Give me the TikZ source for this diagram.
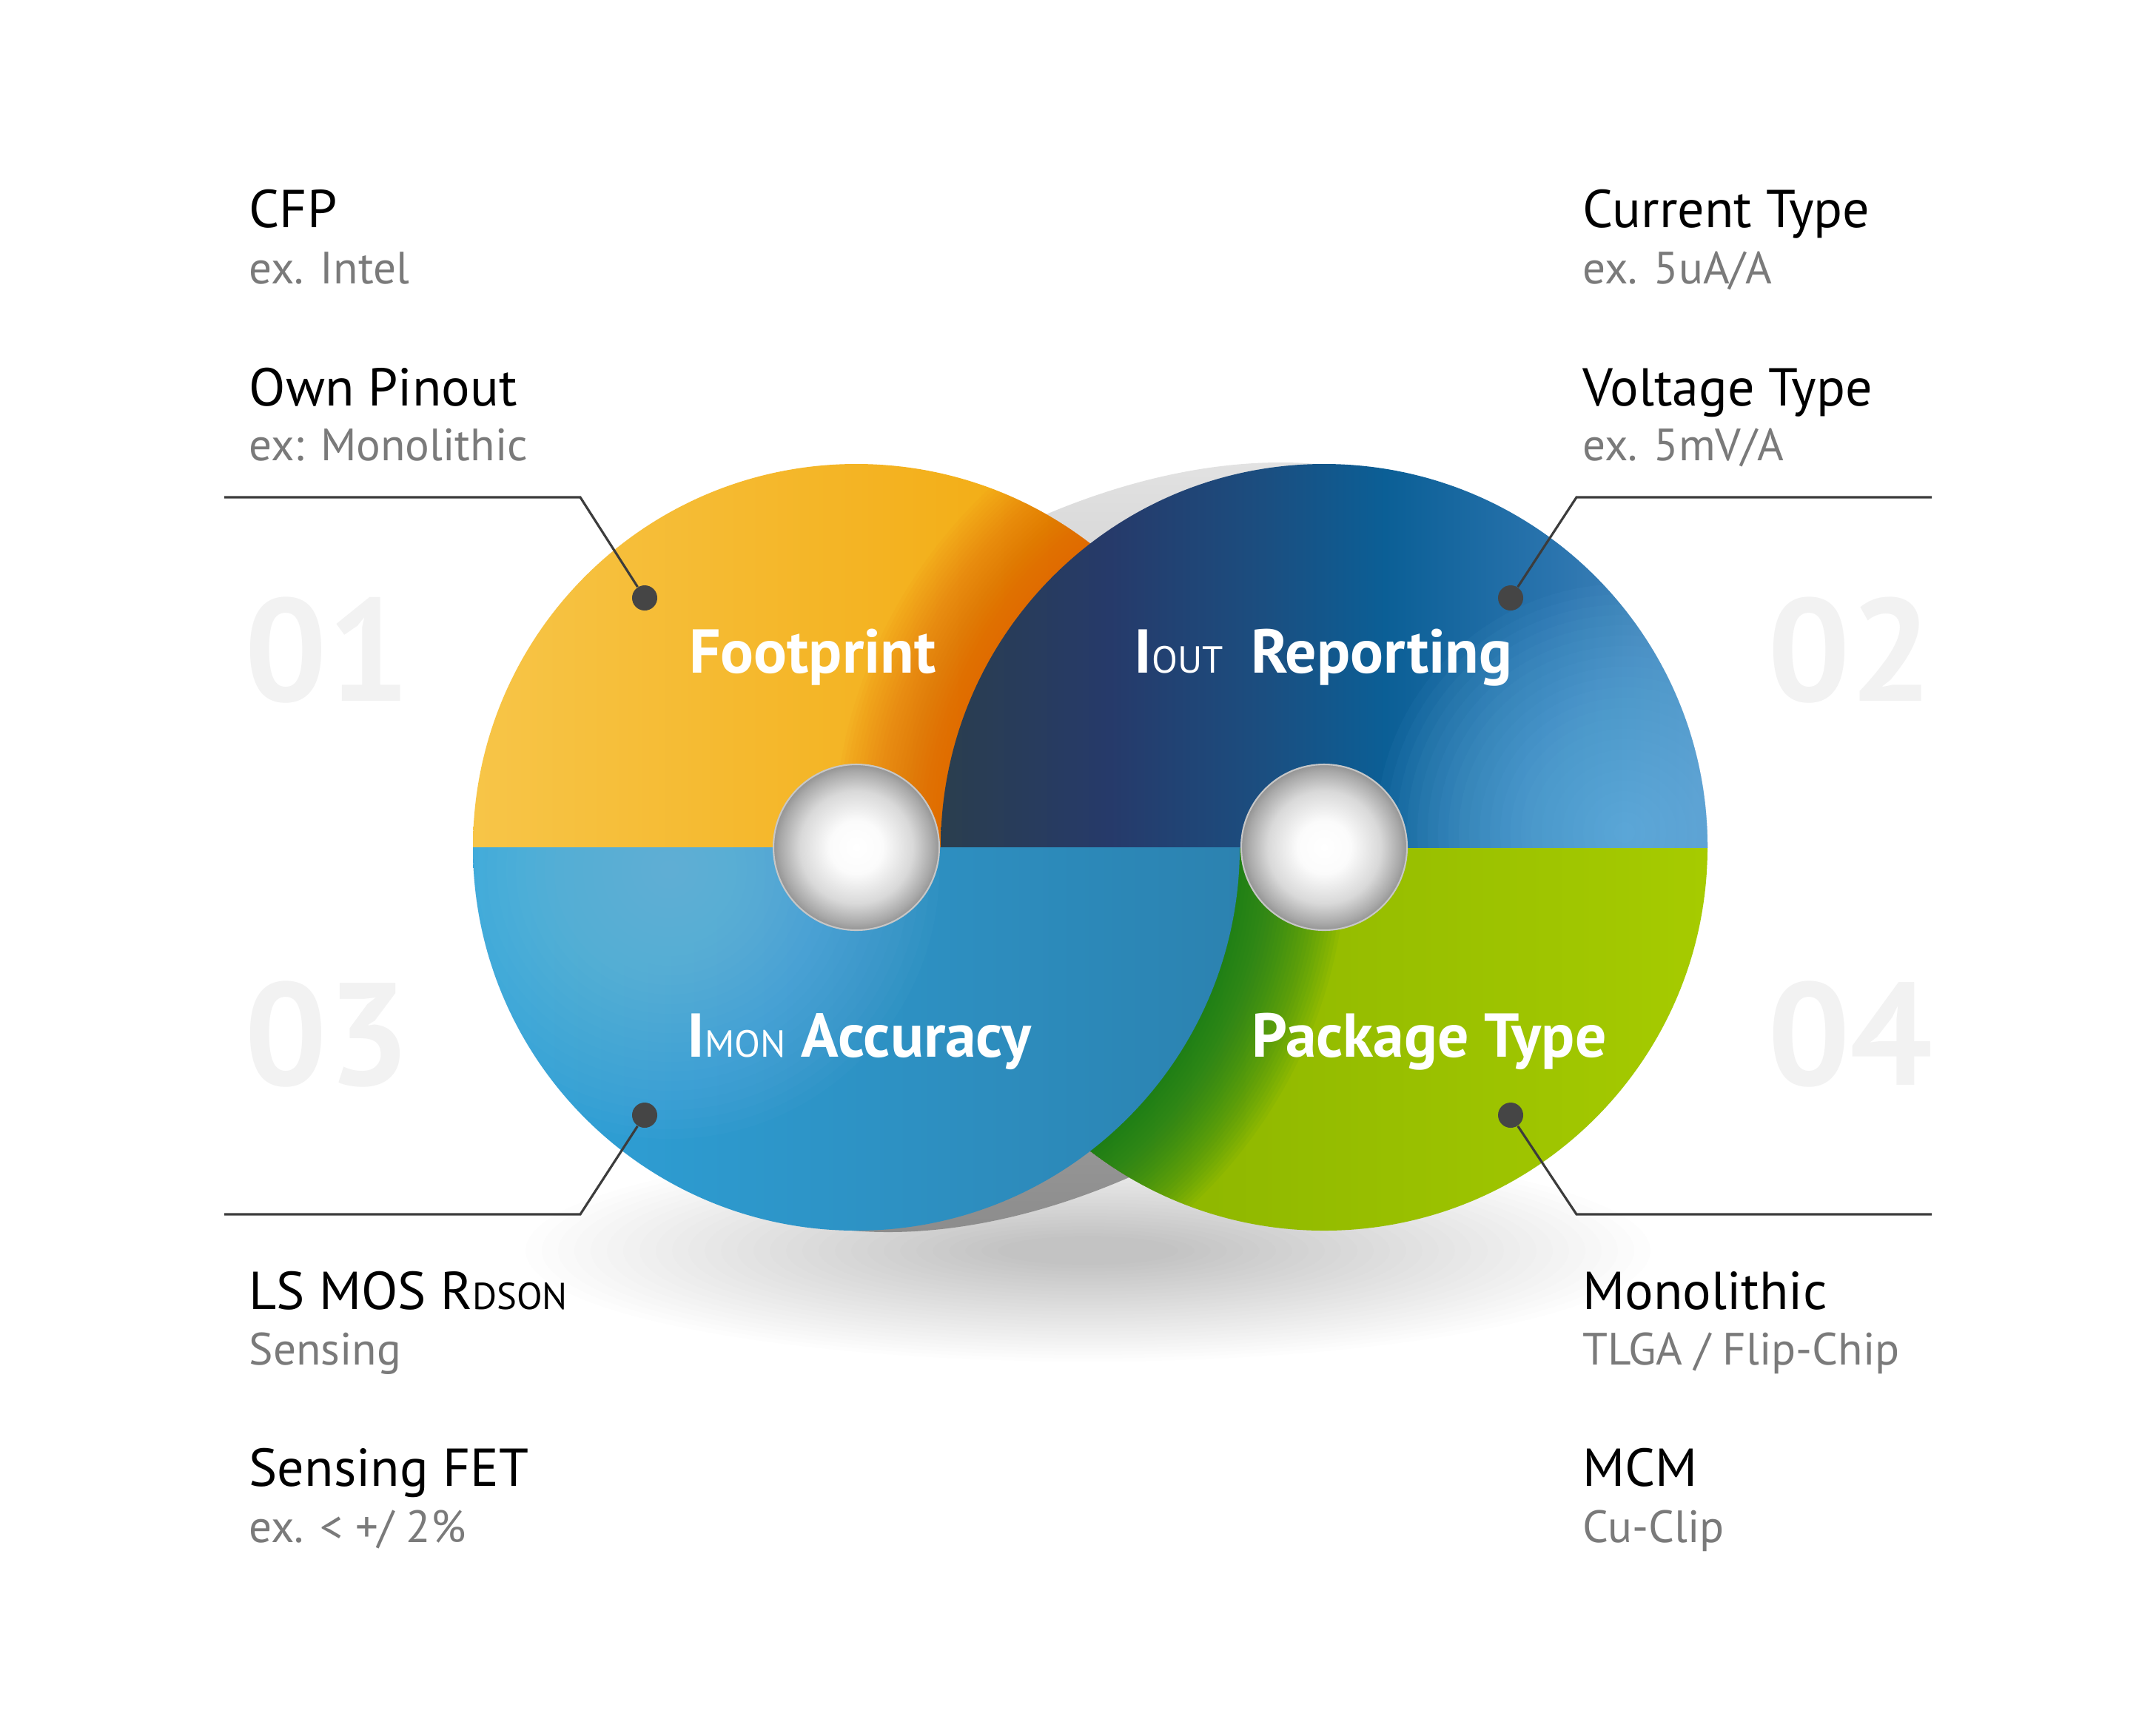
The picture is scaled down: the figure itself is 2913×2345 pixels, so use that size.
\documentclass[tikz,border=0pt]{standalone}
\usepackage{fontspec}
\setmainfont{PT Sans}

\definecolor{orangeA}{HTML}{F7C548}
\definecolor{orangeB}{HTML}{F1A300}
\definecolor{orangeRed}{HTML}{E05500}
\definecolor{greenA}{HTML}{84AE00}
\definecolor{greenB}{HTML}{A6CB00}
\definecolor{greenDark}{HTML}{00732C}
\definecolor{navyA}{HTML}{2A3E4E}
\definecolor{navyB}{HTML}{263A6A}
\definecolor{navyC}{HTML}{1B4E80}
\definecolor{navyD}{HTML}{0B5F96}
\definecolor{navyE}{HTML}{2A74AE}
\definecolor{navyF}{HTML}{4F8CBF}
\definecolor{navySpot}{HTML}{70C0EE}
\definecolor{skyA}{HTML}{2EA3DA}
\definecolor{skyB}{HTML}{2C82B0}
\definecolor{skySpot}{HTML}{8CCAF0}
\definecolor{backTop}{HTML}{E2E2E2}
\definecolor{backBot}{HTML}{8C8C8C}
\definecolor{numGray}{HTML}{F2F2F2}
\definecolor{subGray}{HTML}{7A7A7A}
\definecolor{lineGray}{HTML}{3C3C3C}
\definecolor{dotGray}{HTML}{454545}

\pgfdeclarehorizontalshading{navyshade}{100bp}{color(0bp)=(navyA); color(25bp)=(navyA); color(36bp)=(navyB); color(46bp)=(navyC); color(54bp)=(navyD); color(65bp)=(navyE); color(75bp)=(navyF); color(100bp)=(navyF)}
\pgfdeclareradialshading{holeshade}{\pgfpoint{0bp}{0bp}}{color(0bp)=(white); color(8bp)=(white!97!gray); color(17bp)=(white!85!black); color(23bp)=(white!66!black); color(25bp)=(white!58!black); color(50bp)=(white!58!black)}

\begin{document}
\begin{tikzpicture}[x=0.01cm, y=-0.01cm,
  head/.style={anchor=base west, inner sep=0, font=\fontsize{20.5}{24}\selectfont},
  note/.style={anchor=base west, inner sep=0, text=subGray, font=\fontsize{17.4}{20}\selectfont},
  bignum/.style={inner sep=0, text=numGray, font=\fontsize{56}{60}\selectfont\bfseries},
  disclabel/.style={anchor=base, inner sep=0, text=white, font=\fontsize{23.8}{28}\selectfont\bfseries},
  leader/.style={draw=lineGray, line width=0.9pt},
  dot/.style={circle, fill=dotGray, inner sep=0, minimum size=0.34cm}]

% Canvas
\useasboundingbox (0,0) rectangle (2913,2345);
\fill[white] (0,0) rectangle (2913,2345);

\coordinate (L) at (1157,1145);
\coordinate (R) at (1789,1145);

% Floor shadow
\foreach \k [evaluate=\k as \rx using 760-22*\k, evaluate=\k as \ry using 150-4.5*\k] in {0,...,29}
  \fill[black, opacity=0.009] (1470,1690) ellipse [x radius=\rx, y radius=\ry];

% Back disc
\shade[top color=backTop, bottom color=backBot, shift={(1465,1145)}, xslant=0.51]
  (0,0) ellipse [x radius=560, y radius=520];

% 01 Footprint
\begin{scope}
  \clip (0,0) rectangle (2913,1145);
  \clip (L) circle (518);
  \shade[left color=orangeA, right color=orangeB] (L) circle (518);
  \foreach \k [evaluate=\k as \r using 518+5*\k] in {0,...,29}
    \fill[orangeRed, opacity=0.035] (R) circle (\r);
\end{scope}

% 04 Package Type
\begin{scope}
  \clip (0,1145) rectangle (2913,2345);
  \clip (R) circle (518);
  \shade[left color=greenA, right color=greenB] (R) circle (518);
  \foreach \k [evaluate=\k as \r using 518+5*\k] in {0,...,29}
    \fill[greenDark, opacity=0.045] (L) circle (\r);
\end{scope}

% 02 Iout Reporting
\begin{scope}
  \clip (0,0) rectangle (2913,1145);
  \clip (R) circle (518);
  \shade[shading=navyshade] (R) circle (518);
  \foreach \k [evaluate=\k as \r using 14*\k] in {1,...,24}
    \fill[navySpot, opacity=0.05] (2195,1125) circle (\r);
\end{scope}

% 03 Imon Accuracy
\begin{scope}
  \clip (0,1145) rectangle (2913,2345);
  \clip (L) circle (518);
  \shade[left color=skyA, right color=skyB] (L) circle (518);
  \foreach \k [evaluate=\k as \r using 13*\k] in {1,...,28}
    \fill[skySpot, opacity=0.036] (905,1175) circle (\r);
\end{scope}

% Holes
\foreach \c in {L,R}
  \shadedraw[shading=holeshade, draw=white!78!black, line width=0.6pt] (\c) circle (112);

% Leaders
\node[dot] (d1) at (871,808) {};
\node[dot] (d2) at (2041,808) {};
\node[dot] (d3) at (871,1507) {};
\node[dot] (d4) at (2041,1507) {};
\coordinate (k1) at (784,672);  \coordinate (e1) at (303,672);
\coordinate (k2) at (2130,672); \coordinate (e2) at (2610,672);
\coordinate (k3) at (784,1641); \coordinate (e3) at (303,1641);
\coordinate (k4) at (2130,1641);\coordinate (e4) at (2610,1641);
\draw[leader] (e1) -- (k1) -- (d1);
\draw[leader] (e2) -- (k2) -- (d2);
\draw[leader] (e3) -- (k3) -- (d3);
\draw[leader] (e4) -- (k4) -- (d4);

% Numbers
\node[bignum, anchor=west] (n1) at (330,879) {01};
\node[bignum, anchor=east] (n2) at (2612,879) {02};
\node[bignum, anchor=west] (n3) at (330,1398) {03};
\node[bignum, anchor=east] (n4) at (2612,1398) {04};

% Disc labels
\node[disclabel] (foot) at (1098,909) {Footprint};
\node[disclabel] (iout) at (1788,909) {I{\mdseries\fontsize{14.5}{16}\selectfont OUT}\hspace{0.45em}Reporting};
\node[disclabel] (imon) at (1161,1428) {I{\mdseries\fontsize{14.5}{16}\selectfont MON} Accuracy};
\node[disclabel] (pack) at (1931,1428) {Package Type};

% Side texts
\node[head] (cfp)  at (336,307) {CFP};
\node[note] (cfpx) at (336,383) {ex. Intel};
\node[head] (pin)  at (336,548) {Own Pinout};
\node[note] (pinx) at (336,622) {ex: Monolithic};
\node[head] (cur)  at (2138,307) {Current Type};
\node[note] (curx) at (2138,383) {ex. 5uA/A};
\node[head] (vol)  at (2138,548) {Voltage Type};
\node[note] (volx) at (2138,622) {ex. 5mV/A};
\node[head] (rds)  at (336,1769) {LS MOS R{\fontsize{14.4}{16}\selectfont DSON}};
\node[note] (rdsx) at (336,1844) {Sensing};
\node[head] (fet)  at (336,2008) {Sensing FET};
\node[note] (fetx) at (336,2084) {ex. < +/ 2\%};
\node[head] (mono) at (2138,1769) {Monolithic};
\node[note] (monox) at (2138,1844) {TLGA / Flip-Chip};
\node[head] (mcm)  at (2138,2008) {MCM};
\node[note] (mcmx) at (2138,2084) {Cu-Clip};

\end{tikzpicture}
\end{document}
